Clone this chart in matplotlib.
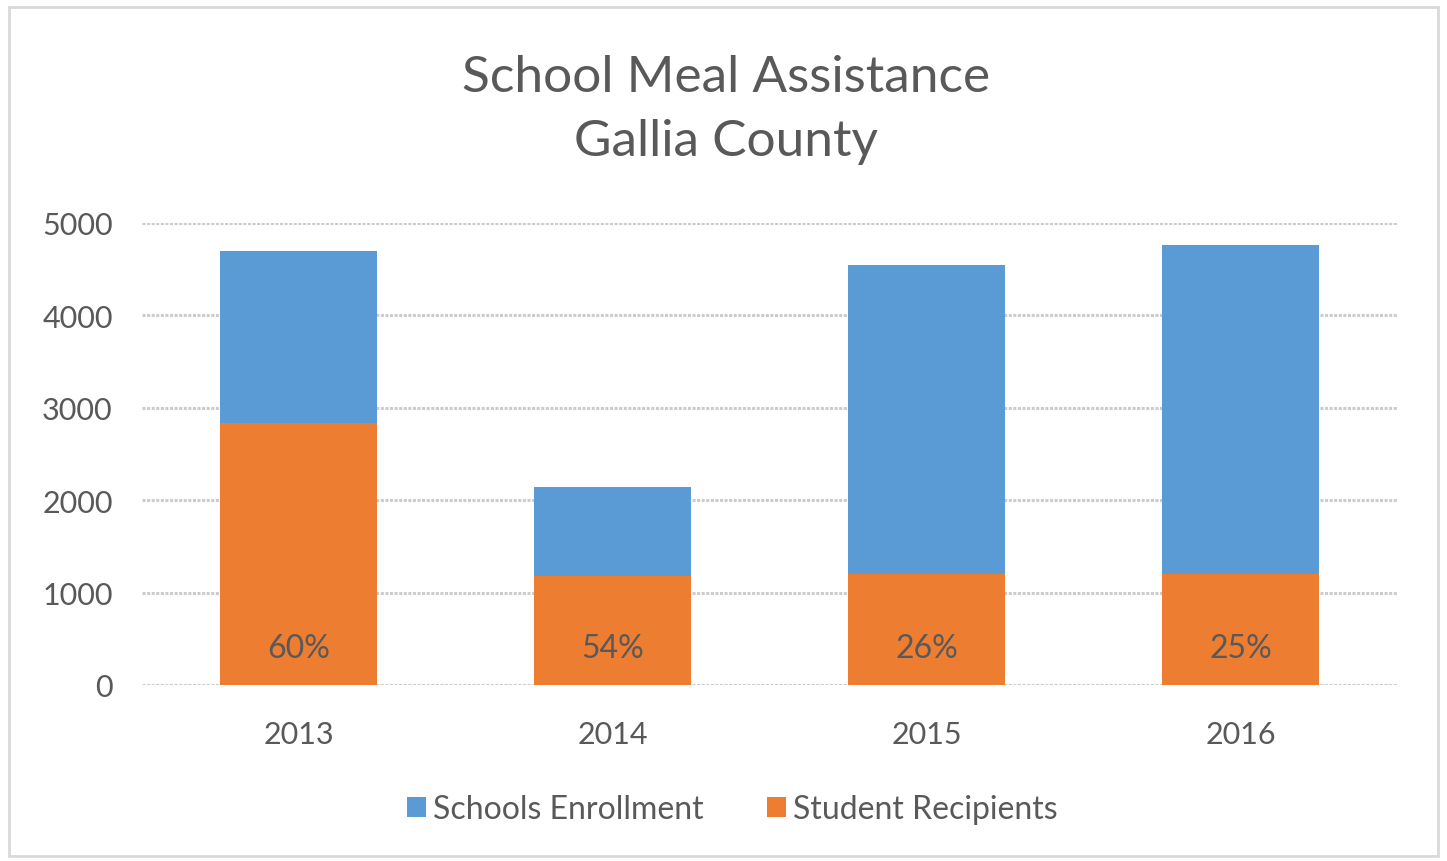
import numpy as np
import matplotlib
matplotlib.use("Agg")
import matplotlib.pyplot as plt
from matplotlib.patches import Rectangle

plt.rcParams["font.family"] = ["Lato", "DejaVu Sans"]

years = ["2013", "2014", "2015", "2016"]
enrollment = [4700, 2145, 4550, 4765]
recipients = [2835, 1180, 1200, 1200]
pct_labels = ["60%", "54%", "26%", "25%"]

BLUE, ORANGE = "#5b9bd5", "#ed7d31"
TXT = "#595959"

fig = plt.figure(figsize=(14.47, 8.62), dpi=100)
ax = fig.add_axes([0.0981, 0.2042, 0.868, 0.536])

x = np.arange(len(years))
ax.bar(x, enrollment, width=0.5, color=BLUE, zorder=2, label="Schools Enrollment")
ax.bar(x, recipients, width=0.5, color=ORANGE, zorder=3, label="Student Recipients")
for xi, lab in zip(x, pct_labels):
    ax.text(xi, 400, lab, ha="center", va="center", fontsize=23, color=TXT, zorder=4)

ax.set_xlim(-0.5, 3.5)
ax.set_ylim(0, 5000)
ax.set_yticks(np.arange(0, 5001, 1000))
ax.set_xticks(x)
ax.set_xticklabels(years)
ax.tick_params(length=0, labelsize=22, labelcolor=TXT)
ax.tick_params(axis="x", pad=25)
ax.tick_params(axis="y", pad=21)
ax.grid(axis="y", color="#cccccc", lw=2.2, ls=(0, (1, 0.5)), zorder=0)
for s in ax.spines.values():
    s.set_visible(False)

fig.text(0.502, 0.91, "School Meal Assistance", ha="center", va="center",
         fontsize=37, color=TXT)
fig.text(0.502, 0.835, "Gallia County", ha="center", va="center",
         fontsize=37, color=TXT)

fig.legend(loc="center", bbox_to_anchor=(0.506, 0.06), ncol=2, frameon=False,
           fontsize=23, labelcolor=TXT, handlelength=0.6, handleheight=0.6,
           handletextpad=0.2, columnspacing=2.0)

fig.patches.append(Rectangle((0.006, 0.006), 0.988, 0.985, transform=fig.transFigure,
                             fill=False, edgecolor="#d9d9d9", lw=2))

fig.savefig("out.png", dpi=100)
